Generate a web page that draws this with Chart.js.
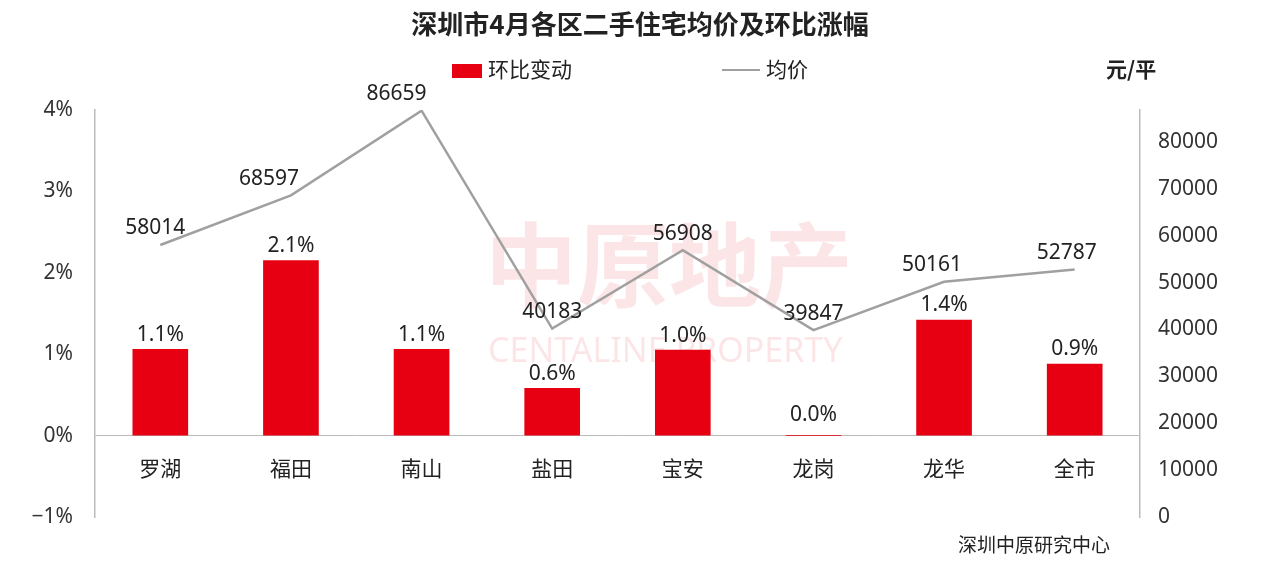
<!DOCTYPE html>
<html><head><meta charset="utf-8">
<script src="https://cdn.jsdelivr.net/npm/chart.js@4"></script>
<style>
body{margin:0;background:#fff;font-family:"Noto Sans CJK SC",sans-serif;}
#wrap{position:relative;width:1280px;height:574px;}
.t{position:absolute;color:#222;white-space:nowrap;}
</style></head><body>
<div id="wrap">
<canvas id="c" width="1280" height="574"></canvas>
<div class="t" style="left:0;width:1280px;text-align:center;top:4px;font-size:26px;font-weight:bold;">深圳市4月各区二手住宅均价及环比涨幅</div>
<div class="t" style="left:452px;top:53px;font-size:21px;"><span style="display:inline-block;width:30px;height:14px;background:#e60012;margin-right:6px;vertical-align:-1px"></span>环比变动</div>
<div class="t" style="left:722px;top:53px;font-size:21px;"><span style="display:inline-block;width:38px;height:2px;background:#a0a0a0;margin-right:6px;vertical-align:6px"></span>均价</div>
<div class="t" style="left:1106px;top:53px;font-size:21px;font-weight:bold;">元/平</div>
<div class="t" style="left:958px;top:530px;font-size:19px;">深圳中原研究中心</div>
</div>
<script>
const categories = ["罗湖","福田","南山","盐田","宝安","龙岗","龙华","全市"];
const changePct = [1.06, 2.15, 1.06, 0.58, 1.05, 0.0, 1.42, 0.88];
const changeLabels = ["1.1%","2.1%","1.1%","0.6%","1.0%","0.0%","1.4%","0.9%"];
const avgPrice = [58014, 68597, 86659, 40183, 56908, 39847, 50161, 52787];

const labelsPlugin = {
  id: "labels",
  beforeDatasetsDraw(chart) {
    const {ctx} = chart;
    ctx.save();
    ctx.fillStyle = "rgba(230,0,18,0.10)";
    ctx.font = "bold 92px 'Noto Sans CJK SC'";
    ctx.fillText("中原地产", 485, 300);
    ctx.font = "34px 'Noto Sans'";
    ctx.fillText("CENTALINE PROPERTY", 488, 362);
    ctx.restore();
  },
  afterDatasetsDraw(chart) {
    const {ctx} = chart;
    const x = chart.scales.x, y = chart.scales.y;
    const y0 = y.getPixelForValue(0);
    ctx.save();
    ctx.fillStyle = "#222";
    ctx.textAlign = "center";
    ctx.font = "21px 'Noto Sans CJK SC'";
    categories.forEach((c, i) => {
      const px = x.getPixelForValue(i);
      ctx.textBaseline = "middle";
      ctx.fillText(c, px, y0 + 32);
      ctx.textBaseline = "bottom";
      ctx.font = "21px 'Noto Sans'";
      ctx.fillText(changeLabels[i], px, y.getPixelForValue(changePct[i]) - (changePct[i] === 0 ? 10 : 4));
      ctx.font = "21px 'Noto Sans CJK SC'";
    });
    const shift = [-5, -22, -25, 0, 0, 0, -12, -8];
    const m = chart.getDatasetMeta(1);
    ctx.font = "21px 'Noto Sans'";
    ctx.textBaseline = "bottom";
    m.data.forEach((p, i) => ctx.fillText(String(avgPrice[i]), p.x + shift[i], p.y - 6));
    ctx.restore();
  }
};

new Chart(document.getElementById("c"), {
  data: {
    labels: categories,
    datasets: [
      {type: "bar", data: changePct, backgroundColor: "#e60012", yAxisID: "y", barThickness: 55, order: 2},
      {type: "line", data: avgPrice, borderColor: "#a0a0a0", borderWidth: 2.5, pointRadius: 0, yAxisID: "y2", order: 1}
    ]
  },
  options: {
    responsive: false, animation: false,
    layout: {padding: {top: 110, bottom: 57, left: 0, right: 0}},
    plugins: {legend: {display: false}, title: {display: false}, tooltip: {enabled: false}},
    scales: {
      x: {grid: {display: false, drawTicks: false}, border: {display: false}, ticks: {display: false}},
      y: {position: "left", min: -1, max: 4,
        afterFit(s) { s.width = 95; },
        grid: {drawOnChartArea: true, drawTicks: false, color: c => c.tick.value === 0 ? "#bbb" : "transparent"},
        border: {color: "#bbb", width: 1.5},
        ticks: {stepSize: 1, padding: 22, color: "#333", font: {size: 21, family: "Noto Sans"},
          callback: v => (v < 0 ? "\u22121" : v) + "%"}},
      y2: {position: "right", min: 0, max: 86800,
        afterFit(s) { s.width = 140; },
        grid: {display: false, drawTicks: false},
        border: {color: "#bbb", width: 1.5},
        afterBuildTicks(s) { s.ticks = [0,10000,20000,30000,40000,50000,60000,70000,80000].map(v => ({value: v})); },
        ticks: {padding: 18, color: "#333", font: {size: 21, family: "Noto Sans"}, callback: v => String(v)}}
    }
  },
  plugins: [labelsPlugin]
});
</script></body></html>
